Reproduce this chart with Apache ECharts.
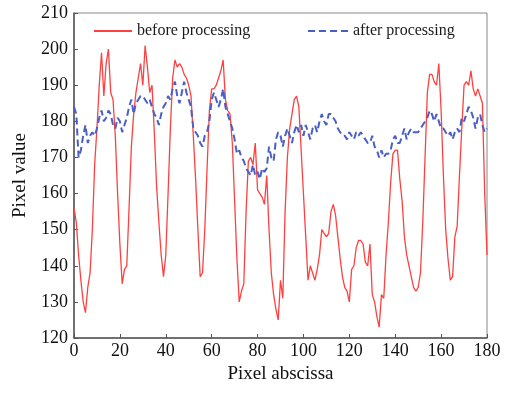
<!DOCTYPE html>
<html>
<head>
<meta charset="utf-8">
<script src="https://cdn.jsdelivr.net/npm/echarts@6/dist/echarts.min.js"></script>
<style>
  html, body { margin: 0; padding: 0; background: #fff; }
  #chart { width: 508px; height: 395px; }
</style>
</head>
<body>
<div id="chart"></div>
<script>
// pixel abscissa 0..180, one value per pixel
const xPixels = Array.from({ length: 181 }, (_, i) => i);

const beforeValues = [
  156, 152, 143, 136, 130, 127, 134, 138, 150, 168,
  178, 190, 199, 187, 196, 200, 188, 186, 176, 160,
  146, 135, 139, 140, 156, 173, 182, 188, 192, 196,
  190, 201, 195, 188, 190, 177, 162, 152, 143, 137,
  143, 160, 178, 192, 197, 195, 196, 195, 193, 192,
  190, 187, 176, 164, 150, 137, 138, 150, 167, 183,
  189, 189, 190, 192, 194, 197, 186, 183, 182, 174,
  158, 142, 130, 133, 135, 155, 169, 170, 168, 174,
  161, 160, 159, 157, 165, 150, 138, 132, 128, 125,
  136, 131, 155, 170, 178, 182, 186, 187, 184, 172,
  160, 148, 136, 140, 138, 136, 139, 143, 150, 149,
  148, 149, 155, 157, 154, 148, 142, 137, 134, 133,
  130, 139, 140, 145, 147, 147, 146, 141, 140, 146,
  132, 130, 126, 123, 132, 131, 143, 152, 163, 171,
  172, 172, 164, 158, 148, 143, 140, 137, 134, 133,
  134, 138, 152, 170, 188, 193, 193, 191, 190, 196,
  183, 165, 150, 142, 136, 137, 148, 151, 165, 178,
  190, 191, 190, 194, 189, 187, 189, 187, 185, 160,
  143
];

const afterValues = [
  184, 182, 170, 172, 176, 179, 174, 176, 177, 176,
  178, 181, 183, 180, 181, 183, 182, 179, 178, 181,
  180, 177, 179, 181, 184, 186, 182, 185, 186, 187,
  187, 186, 185, 186, 184, 182, 181, 179, 182, 184,
  185, 187, 186, 189, 191, 187, 185, 188, 191, 188,
  186, 184, 178, 177, 176, 174, 173, 176, 177, 180,
  186, 188, 186, 184, 186, 189, 184, 182, 180, 178,
  175, 171, 172, 170, 169, 167, 166, 165, 168, 165,
  166, 164, 167, 166, 167, 173, 170, 169, 175, 177,
  176, 173, 176, 178, 176, 174, 177, 179, 177, 179,
  176, 179, 177, 175, 178, 179, 177, 180, 182, 180,
  179, 182, 182, 181, 180, 178, 177, 176, 176, 175,
  177, 176, 175, 177, 176, 177, 176, 175, 174, 174,
  176, 173, 172, 170, 172, 170, 171, 171, 172, 175,
  176, 174, 174, 176, 178, 175, 177, 178, 177, 177,
  177, 178, 179, 180, 181, 183, 182, 180, 182, 180,
  178, 178, 177, 176, 177, 175, 177, 178, 177, 181,
  180, 182, 184, 183, 181, 178, 181, 182, 179, 177,
  178
];

const xTicks = [0, 20, 40, 60, 80, 100, 120, 140, 160, 180];
const yTicks = [120, 130, 140, 150, 160, 170, 180, 190, 200, 210];

const serif = '"Liberation Serif", "DejaVu Serif", serif';
const axisColor = '#555';

const chart = echarts.init(document.getElementById('chart'));

const toPairs = (vals) => vals.map((v, i) => [xPixels[i], v]);

chart.setOption({
  animation: false,
  backgroundColor: '#fff',
  grid: {
    left: 74, right: 21, top: 13, bottom: 57,
    show: true,
    borderColor: '#888',
    borderWidth: 1
  },
  legend: [
    {
      data: ['before processing'],
      left: 88, top: 18,
      itemWidth: 38, itemHeight: 12,
      itemStyle: { opacity: 0 },
      textStyle: { fontFamily: serif, fontSize: 16, color: '#1a1a1a' }
    },
    {
      data: ['after processing'],
      left: 302, top: 18,
      itemWidth: 40, itemHeight: 12,
      itemStyle: { opacity: 0 },
      textStyle: { fontFamily: serif, fontSize: 16, color: '#1a1a1a' }
    }
  ],
  xAxis: {
    type: 'value',
    min: xTicks[0],
    max: xTicks[xTicks.length - 1],
    interval: 20,
    name: 'Pixel abscissa',
    nameLocation: 'middle',
    nameGap: 26,
    nameTextStyle: { fontFamily: serif, fontSize: 19, color: '#111' },
    axisLine: { lineStyle: { color: axisColor, width: 1.5 } },
    axisTick: { inside: true, length: 4, lineStyle: { color: axisColor } },
    axisLabel: { fontFamily: serif, fontSize: 18, color: '#111', margin: 4 },
    splitLine: { show: false }
  },
  yAxis: {
    type: 'value',
    min: yTicks[0],
    max: yTicks[yTicks.length - 1],
    interval: 10,
    name: 'Pixel value',
    nameLocation: 'middle',
    nameGap: 44,
    nameTextStyle: { fontFamily: serif, fontSize: 19, color: '#111' },
    axisLine: { show: true, lineStyle: { color: axisColor, width: 1.5 } },
    axisTick: { show: true, inside: true, length: 4, lineStyle: { color: axisColor } },
    axisLabel: { fontFamily: serif, fontSize: 18, color: '#111', margin: 6 },
    splitLine: { show: false }
  },
  series: [
    {
      name: 'before processing',
      type: 'line',
      data: toPairs(beforeValues),
      symbol: 'none',
      lineStyle: { color: '#ff4040', width: 1.3 },
      itemStyle: { color: '#ff4040' },
      z: 2
    },
    {
      name: 'after processing',
      type: 'line',
      data: toPairs(afterValues),
      symbol: 'none',
      lineStyle: { color: '#4a5fc4', width: 2, type: [7, 4] },
      itemStyle: { color: '#4a5fc4' },
      z: 3
    }
  ]
});
</script>
</body>
</html>
